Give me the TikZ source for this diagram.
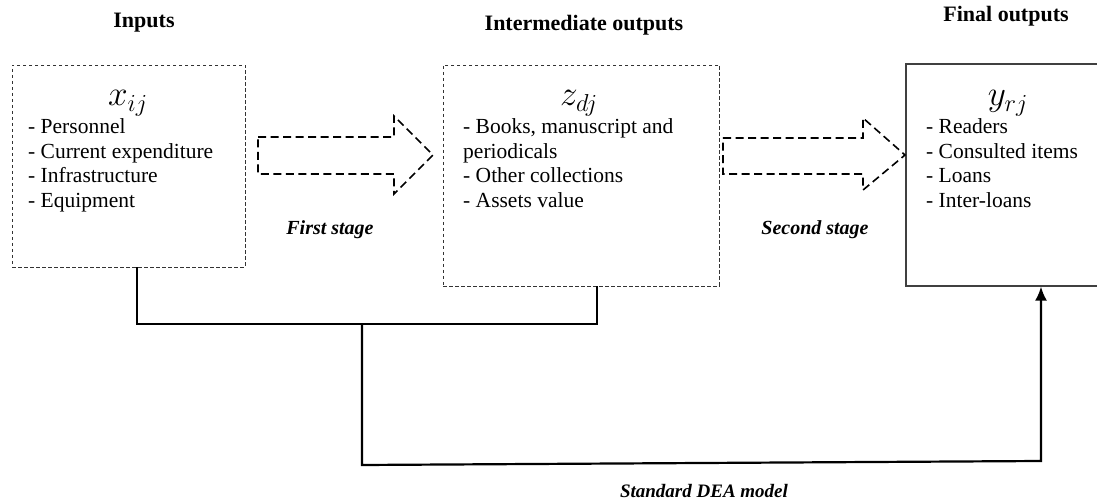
\documentclass[tikz,border=0pt]{standalone}
\usepackage{fontspec}
\setmainfont{Liberation Serif}
\usetikzlibrary{arrows.meta}
\newcommand{\bigvar}[1]{\scalebox{1.7}{$#1$}}
\begin{document}
\begin{tikzpicture}[x=1pt,y=-1pt,
  dbox/.style={draw=black!80, line width=0.7pt, dash pattern=on 3.5pt off 2.5pt, inner sep=0pt},
  fbox/.style={draw=black!75, line width=1.2pt, inner sep=0pt},
  title/.style={font=\fontsize{22}{26}\selectfont\bfseries, anchor=center, inner sep=0pt},
  item/.style={font=\fontsize{21.5}{24.5}\selectfont, anchor=base west, inner sep=0pt},
  var/.style={font=\fontsize{20.74}{24}\selectfont, anchor=base, inner sep=0pt},
  blockarrow/.style={draw=black, line width=1.6pt, dash pattern=on 8pt off 4.5pt, line join=miter},
  stage/.style={font=\fontsize{20}{24}\selectfont\bfseries\itshape, inner sep=0pt},
  link/.style={draw=black, line width=2.2pt, line join=miter},
]
\clip (0,0) rectangle (1097,502);
\fill[white] (0,0) rectangle (1097,502);

% boxes
\node[dbox, minimum width=233pt, minimum height=202pt] (in) at (128.5,166) {};
\node[dbox, minimum width=276pt, minimum height=221pt] (mid) at (581,175.5) {};
\node[fbox, minimum width=200pt, minimum height=222pt] (out) at (1006,175) {};

% titles
\node[title] (tin) at (144,23) {Inputs};
\node[title] (tmid) at (584,25) {Intermediate outputs};
\node[title] (tout) at (1006,16) {Final outputs};

% variables
\node[var] (vx) at (128,106) {\bigvar{x_{ij}}};
\node[var] (vz) at (579,106) {\bigvar{z_{dj}}};
\node[var] (vy) at (1008,106) {\bigvar{y_{rj}}};

% items
\node[item] (in1) at (28,134) {- Personnel};
\node[item] (in2) at (28,158.5) {- Current expenditure};
\node[item] (in3) at (28,183) {- Infrastructure};
\node[item] (in4) at (28,207.5) {- Equipment};

\node[item] (mid1) at (463,134) {- Books, manuscript and};
\node[item] (mid2) at (463,158.5) {periodicals};
\node[item] (mid3) at (463,183) {- Other collections};
\node[item] (mid4) at (463,207.5) {- Assets value};

\node[item] (out1) at (926,134) {- Readers};
\node[item] (out2) at (926,158.5) {- Consulted items};
\node[item] (out3) at (926,183) {- Loans};
\node[item] (out4) at (926,207.5) {- Inter-loans};

% block arrows
\draw[blockarrow] (258,137) -- (394,137) -- (394,116) -- (433,155) -- (394,194) -- (394,174) -- (258,174) -- cycle;
\draw[blockarrow] (723,138) -- (863,138) -- (863,118) -- (905,155) -- (863,190) -- (863,174) -- (723,174) -- cycle;

% stage labels
\node[stage] (s1) at (330,230) {First stage};
\node[stage] (s2) at (815,230) {Second stage};
\node[stage, font=\fontsize{19}{24}\selectfont\bfseries\itshape, anchor=base] (s3) at (704,497) {Standard DEA model};

% connectors
\coordinate (xa) at (137,0);
\coordinate (xb) at (597,0);
\coordinate (j) at (362,324);
\coordinate (bl) at (362,465);
\coordinate (br) at (1041,461);
\draw[link] (in.south -| xa) -- (137,324) -- (597,324) -- (mid.south -| xb);
\draw[link, -{Latex[length=14pt,width=12pt]}] (j) -- (bl) -- (br) -- (out.south -| br);
\end{tikzpicture}
\end{document}
